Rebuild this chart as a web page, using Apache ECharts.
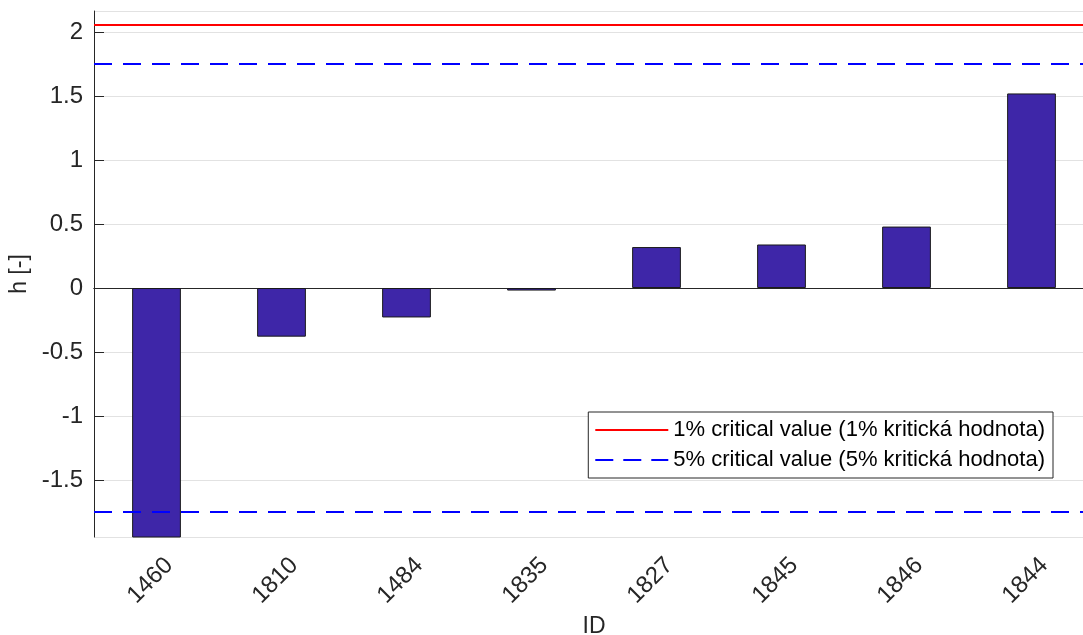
<!DOCTYPE html>
<html>
<head>
<meta charset="utf-8">
<script src="https://cdn.jsdelivr.net/npm/echarts@6/dist/echarts.min.js"></script>
<style>
  html, body { margin: 0; padding: 0; background: #fff; }
  #chart { width: 1083px; height: 635px; }
</style>
</head>
<body>
<div id="chart"></div>
<script>
// data
const ids = ['1460', '1810', '1484', '1835', '1827', '1845', '1846', '1844'];
const hValues = [-2.3, -0.38, -0.23, -0.02, 0.32, 0.34, 0.48, 1.52];
const crit1 = 2.06;
const crit5 = 1.75;
const yMin = -1.945;
const yMax = 2.164;

const axisColor = '#262626';
const fontFamily = "'Liberation Sans', Arial, sans-serif";

const chart = echarts.init(document.getElementById('chart'));

const option = {
  backgroundColor: '#fff',
  animation: false,
  textStyle: { fontFamily: fontFamily },
  grid: {
    left: 94,
    top: 11,
    width: 1000,
    bottom: 98,
    outerBoundsMode: 'none',
    containLabel: false
  },
  legend: {
    orient: 'vertical',
    right: 30,
    top: 412,
    backgroundColor: '#fff',
    borderColor: axisColor,
    borderWidth: 1,
    borderRadius: 0,
    padding: [7, 8, 7, 6],
    itemGap: 8,
    itemWidth: 73,
    itemHeight: 14,
    itemStyle: { opacity: 0 },
    textStyle: { color: '#000', fontSize: 22, fontFamily: fontFamily },
    data: ['1% critical value (1% kritická hodnota)', '5% critical value (5% kritická hodnota)']
  },
  xAxis: [{
    type: 'category',
    data: ids,
    name: 'ID',
    nameLocation: 'middle',
    nameGap: 76,
    nameTextStyle: { color: axisColor, fontSize: 23 },
    axisLine: { lineStyle: { color: axisColor, width: 1 } },
    axisTick: { inside: true, alignWithLabel: true, length: 10, lineStyle: { color: axisColor } },
    axisLabel: { color: axisColor, fontSize: 24, rotate: 45, margin: 12, verticalAlign: 'top', padding: [6, 0, 0, 0] },
    splitLine: { show: false }
  }, {
    type: 'category',
    data: ids,
    position: 'top',
    axisLine: { lineStyle: { color: axisColor, width: 1 } },
    axisTick: { inside: true, alignWithLabel: true, length: 10, lineStyle: { color: axisColor } },
    axisLabel: { show: false },
    splitLine: { show: false }
  }],
  yAxis: [{
    type: 'value',
    min: yMin,
    max: yMax,
    splitNumber: 8,
    name: 'h [-]',
    nameLocation: 'middle',
    nameGap: 61,
    nameRotate: 90,
    nameTextStyle: { color: axisColor, fontSize: 23 },
    axisLine: { show: true, lineStyle: { color: axisColor, width: 1 } },
    axisTick: { show: true, inside: true, length: 10, lineStyle: { color: axisColor } },
    axisLabel: { color: axisColor, fontSize: 24, margin: 11, showMinLabel: false, showMaxLabel: false },
    splitLine: { show: true, lineStyle: { color: '#e2e2e2', width: 1 } }
  }, {
    type: 'value',
    min: yMin,
    max: yMax,
    splitNumber: 8,
    position: 'right',
    axisLine: { show: true, lineStyle: { color: axisColor, width: 1 } },
    axisTick: { show: true, inside: true, length: 10, lineStyle: { color: axisColor } },
    axisLabel: { show: false },
    splitLine: { show: false }
  }],
  series: [
    {
      name: 'h',
      type: 'bar',
      data: hValues,
      barWidth: '39%',
      clip: true,
      itemStyle: { color: '#3e26a8', borderColor: '#1a1a1a', borderWidth: 1 },
      z: 2
    },
    {
      name: '1% critical value (1% kritická hodnota)',
      type: 'line',
      data: [],
      symbol: 'none',
      lineStyle: { color: '#ff0000', width: 2, type: 'solid' },
      itemStyle: { color: '#ff0000' },
      markLine: {
        silent: true,
        symbol: ['none', 'none'],
        label: { show: false },
        lineStyle: { color: '#ff0000', width: 2, type: 'solid' },
        data: [{ yAxis: crit1 }]
      },
      z: 3
    },
    {
      name: '5% critical value (5% kritická hodnota)',
      type: 'line',
      data: [],
      symbol: 'none',
      lineStyle: { color: '#0000ff', width: 2, type: [18, 10] },
      itemStyle: { color: '#0000ff' },
      markLine: {
        silent: true,
        symbol: ['none', 'none'],
        label: { show: false },
        lineStyle: { color: '#0000ff', width: 2, type: [18, 11] },
        data: [{ yAxis: crit5 }, { yAxis: -crit5 }]
      },
      z: 3
    }
  ]
};

chart.setOption(option);
</script>
</body>
</html>
